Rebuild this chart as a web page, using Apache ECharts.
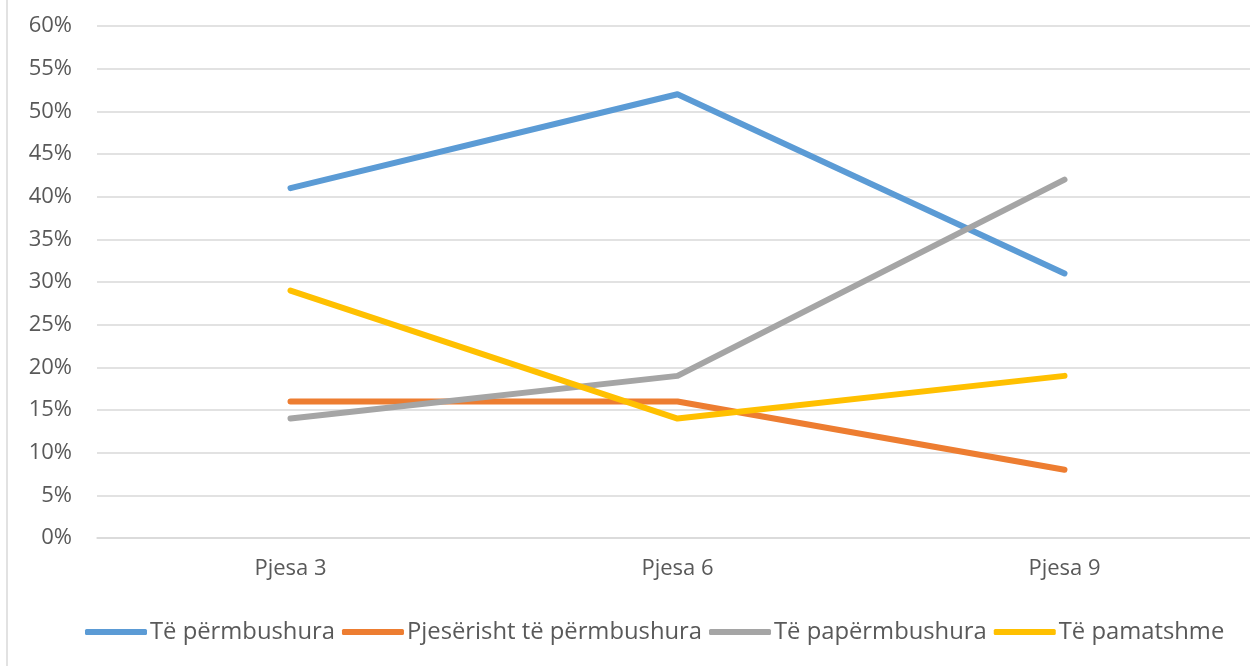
<!DOCTYPE html>
<html>
<head>
<meta charset="utf-8">
<script src="https://cdn.jsdelivr.net/npm/echarts@6/dist/echarts.min.js"></script>
<style>
  html, body { margin: 0; padding: 0; background: #fff; }
  #chart { width: 1250px; height: 666px; }
</style>
</head>
<body>
<div id="chart"></div>
<script>
// categories and series (percent)
const categories = ['Pjesa 3', 'Pjesa 6', 'Pjesa 9'];
const permbushura = [41, 52, 31];
const pjeserisht = [16, 16, 8];
const paPermbushura = [14, 19, 42];
const pamatshme = [29, 14, 19];

const seriesNames = ['Të përmbushura', 'Pjesërisht të përmbushura', 'Të papërmbushura', 'Të pamatshme'];
const colors = ['#5B9BD5', '#ED7D31', '#A5A5A5', '#FFC000'];

const chart = echarts.init(document.getElementById('chart'));

const makeLine = (name, data, color) => ({
  name: name,
  type: 'line',
  data: data,
  symbol: 'none',
  smooth: false,
  lineStyle: { color: color, width: 6, cap: 'round', join: 'round' },
  itemStyle: { color: color }
});

chart.setOption({
  backgroundColor: '#fff',
  animation: false,
  textStyle: { fontFamily: 'Open Sans' },
  grid: { left: 97, top: 26, width: 1161, height: 512, outerBoundsMode: 'none', containLabel: false },
  legend: {
    bottom: 17,
    left: 80,
    itemWidth: 62,
    itemHeight: 6,
    itemGap: 7,
    icon: 'roundRect',
    data: seriesNames,
    textStyle: { color: '#595959', fontSize: 23.8, fontFamily: 'Open Sans', padding: [0, 0, 0, -2] }
  },
  xAxis: {
    type: 'category',
    data: categories,
    boundaryGap: true,
    axisLine: { show: true, lineStyle: { color: '#D9D9D9', width: 1.5 } },
    axisTick: { show: false },
    axisLabel: { color: '#595959', fontSize: 22, margin: 20 }
  },
  yAxis: {
    type: 'value',
    min: 0,
    max: 60,
    interval: 5,
    axisLine: { show: false },
    axisTick: { show: false },
    splitLine: { lineStyle: { color: '#D9D9D9', width: 1.5 } },
    axisLabel: { color: '#595959', fontSize: 22, margin: 25, formatter: '{value}%' }
  },
  graphic: [{
    type: 'line',
    shape: { x1: 7, y1: 0, x2: 7, y2: 666 },
    style: { stroke: '#D9D9D9', lineWidth: 1.5 }
  }],
  series: [
    makeLine(seriesNames[0], permbushura, colors[0]),
    makeLine(seriesNames[1], pjeserisht, colors[1]),
    makeLine(seriesNames[2], paPermbushura, colors[2]),
    makeLine(seriesNames[3], pamatshme, colors[3])
  ]
});
</script>
</body>
</html>
